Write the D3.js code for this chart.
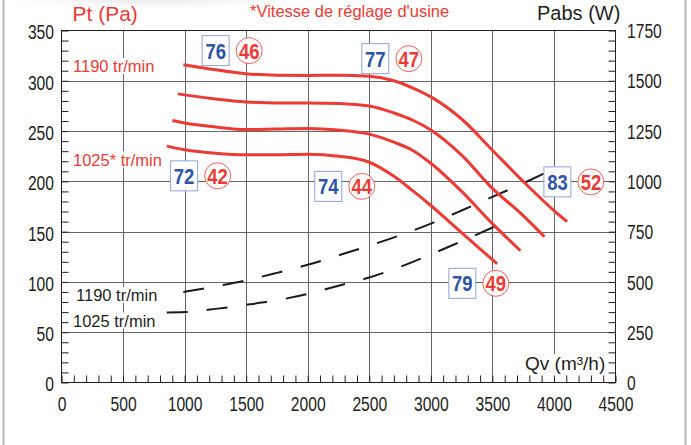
<!DOCTYPE html>
<html>
<head>
<meta charset="utf-8">
<script src="https://cdn.jsdelivr.net/npm/d3@7"></script>
<style>
	body { margin: 0; background: #fff; }
	svg { display: block; }
</style>
</head>
<body>
<div id="chart"></div>
<script>
// pressure curves, [Qv (m3/h), Pt (Pa)]
const pt1190 = [[990,316],[1250,311],[1500,307],[1750,305.5],[2000,305.3],[2250,305.5],[2500,304.5],[2700,300],[2850,293],[3000,284],[3250,262],[3500,231],[3750,200],[4000,171],[4107,160]]
const ptB = [[945,287],[1000,286],[1250,282],[1500,279],[1750,278],[2000,278],[2250,277.5],[2500,275],[2700,268],[2850,261],[3000,251],[3250,226],[3500,193],[3750,166],[3923,145]]
const ptC = [[901,260.5],[1000,258],[1250,254],[1500,251.5],[1750,252],[2000,252.5],[2250,251],[2500,247],[2700,239],[2850,231],[3000,218],[3250,190],[3500,158],[3728,131]]
const pt1025 = [[855,235],[1000,231.5],[1250,228],[1500,226.5],[1750,226.5],[2000,227],[2250,225],[2500,219],[2700,205],[2850,191],[3000,176],[3240,150],[3538,118]]

// absorbed power curves, [Qv (m3/h), Pabs (W)]
const pw1190 = [[990,450],[1250,478],[1500,508],[1750,545],[2000,585],[2250,632],[2500,680],[2750,732],[3000,790],[3250,855],[3500,923],[3750,990],[3917,1038]]
const pw1025 = [[855,348],[1000,350],[1250,366],[1500,386],[1750,409],[2000,440],[2250,481],[2500,522],[2750,575],[3000,637],[3250,702],[3538,781]]

// efficiency / noise markers placed at [Qv, Pt]
const markerBox = ['76', '77', '72', '74', '79', '83']
const markerCircle = ['46', '47', '42', '44', '49', '52']
const markerAt = [[1252,330],[2549,322],[996,205.5],[2167,195],[3256,98.6],[4028,199.5]]

const qTicks = d3.range(0, 4501, 500)
const ptTicks = d3.range(0, 351, 50)

const red = '#ec3b35'
const ink = '#231f20'
const sans = "'Liberation Sans', Arial, sans-serif"

const svg = d3.select('#chart')
	.append('svg')
	.attr('width', 691)
	.attr('height', 445)

const x = d3.scaleLinear().domain([0, 4500]).range([61.5, 615.5])
const y = d3.scaleLinear().domain([0, 350]).range([382.5, 30.5])
const yW = d3.scaleLinear().domain([0, 1750]).range([382.5, 30.5])

// soft shadow at the top of the page
const shade = svg.append('defs').append('radialGradient')
	.attr('id', 'shade')
shade.append('stop').attr('offset', '0%').attr('stop-color', '#d8d8d8')
shade.append('stop').attr('offset', '100%').attr('stop-color', '#fff').attr('stop-opacity', 0)
svg.append('ellipse')
	.attr('cx', 150).attr('cy', -4)
	.attr('rx', 170).attr('ry', 16)
	.attr('fill', 'url(#shade)')

// page frame
svg.append('g')
	.selectAll('line')
	.data([3.5, 685.5])
	.enter()
		.append('line')
			.attr('x1', d => d).attr('x2', d => d)
			.attr('y1', 0).attr('y2', 445)
			.attr('stroke', '#b9b9b9')
			.attr('stroke-width', 2)

// grid
const grid = svg.append('g').attr('stroke', '#666').attr('stroke-width', 1)
grid.selectAll('line.v')
	.data(qTicks.slice(1, -1))
	.enter()
		.append('line')
			.attr('class', 'v')
			.attr('x1', d => Math.round(x(d)) + 0.5).attr('x2', d => Math.round(x(d)) + 0.5)
			.attr('y1', y(0)).attr('y2', y(350))
grid.selectAll('line.h')
	.data(ptTicks.slice(1, -1))
	.enter()
		.append('line')
			.attr('class', 'h')
			.attr('x1', x(0)).attr('x2', x(4500))
			.attr('y1', d => Math.round(y(d)) + 0.5).attr('y2', d => Math.round(y(d)) + 0.5)

svg.append('rect')
	.attr('x', x(0)).attr('y', y(350))
	.attr('width', x(4500) - x(0)).attr('height', y(0) - y(350))
	.attr('fill', 'none')
	.attr('stroke', ink)

// text with a white patch behind it
function label(text, px, py, size, colour) {
	const g = svg.append('g')
	const rect = g.append('rect').attr('fill', '#fff')
	const t = g.append('text')
		.attr('x', px).attr('y', py)
		.attr('font-family', sans)
		.attr('font-size', size)
		.attr('fill', colour)
		.text(text)
	const b = t.node().getBBox()
	rect.attr('x', b.x - 1).attr('y', b.y + 1).attr('width', b.width + 2).attr('height', b.height - 2)
	return rect
}

label('1190 tr/min', 73, 72, 16.5, red)
label('1025* tr/min', 73, 165.5, 16.5, red)
label('1190 tr/min', 76, 301, 16.5, ink)
label('1025 tr/min', 73, 326.5, 16.5, ink)
label('Qv (m³/h)', 525, 370, 19, ink).attr('height', 26).attr('width', 91)

// axes
const leftAxis = d3.axisLeft(y)
	.tickValues(d3.range(0, 351, 10))
	.tickSizeInner(-7).tickSizeOuter(0).tickPadding(7.5)
	.tickFormat(d => d % 50 ? '' : d)
const rightAxis = d3.axisRight(yW)
	.tickValues(d3.range(0, 1751, 50))
	.tickSizeInner(-7).tickSizeOuter(0).tickPadding(11.5)
	.tickFormat(d => d % 250 ? '' : d)
const bottomAxis = d3.axisBottom(x)
	.tickValues(d3.range(0, 4501, 100))
	.tickSizeInner(-7).tickSizeOuter(0).tickPadding(14.5)
	.tickFormat(d => d % 500 ? '' : d)

// condensed digits, squeezed to the width seen on the chart
function styleAxis(g) {
	g.select('.domain').remove()
	g.selectAll('line').attr('stroke', ink)
	g.selectAll('text')
		.attr('fill', ink).attr('font-size', 20).attr('font-family', sans)
		.filter(function() { return this.textContent.length > 0 })
		.attr('textLength', function() { return this.textContent.length * 8.7 })
		.attr('lengthAdjust', 'spacingAndGlyphs')
}

svg.append('g').attr('transform', `translate(${x(0)},0)`).call(leftAxis).call(styleAxis)
	.selectAll('text').attr('dy', '0.42em')
svg.append('g').attr('transform', `translate(${x(4500)},0)`).call(rightAxis).call(styleAxis)
	.selectAll('text').attr('dy', '0.36em')
svg.append('g').attr('transform', `translate(0,${y(0)})`).call(bottomAxis).call(styleAxis)

// titles
svg.append('text').attr('x', 72.5).attr('y', 21)
	.attr('font-family', sans).attr('font-size', 21).attr('fill', red)
	.text('Pt (Pa)')
svg.append('text').attr('x', 250).attr('y', 17)
	.attr('font-family', sans).attr('font-size', 16.5).attr('fill', red)
	.text("*Vitesse de réglage d'usine")
svg.append('text').attr('x', 537).attr('y', 20)
	.attr('font-family', sans).attr('font-size', 20).attr('fill', ink)
	.text('Pabs (W)')

// curves
const ptLine = d3.line().x(d => x(d[0])).y(d => y(d[1])).curve(d3.curveMonotoneX)
const pwLine = d3.line().x(d => x(d[0])).y(d => yW(d[1])).curve(d3.curveMonotoneX)

svg.append('g')
	.selectAll('path')
	.data([pw1190, pw1025])
	.enter()
		.append('path')
			.attr('d', pwLine)
			.attr('fill', 'none')
			.attr('stroke', '#1b1b1b')
			.attr('stroke-width', 2)
			.attr('stroke-dasharray', '21,19')

svg.append('g')
	.selectAll('path')
	.data([pt1190, ptB, ptC, pt1025])
	.enter()
		.append('path')
			.attr('d', ptLine)
			.attr('fill', 'none')
			.attr('stroke', red)
			.attr('stroke-width', 3)

// markers
const markers = svg.append('g')
	.selectAll('g.marker')
	.data(markerAt)
	.enter()
		.append('g')
			.attr('class', 'marker')
			.attr('transform', d => `translate(${x(d[0])},${y(d[1])})`)

markers.append('rect')
	.attr('x', -13.5).attr('y', -15)
	.attr('width', 27).attr('height', 30)
	.attr('fill', '#fff')
	.attr('stroke', '#8ea3d6')
markers.append('text')
	.attr('text-anchor', 'middle')
	.attr('y', 8)
	.attr('font-family', sans).attr('font-weight', 'bold').attr('font-size', 21.5)
	.attr('textLength', 20.5).attr('lengthAdjust', 'spacingAndGlyphs')
	.attr('fill', '#2d54a6')
	.text((d, i) => markerBox[i])
markers.append('circle')
	.attr('cx', 33.5)
	.attr('r', 13)
	.attr('fill', '#fff')
	.attr('stroke', red)
	.attr('stroke-width', 0.8)
markers.append('text')
	.attr('text-anchor', 'middle')
	.attr('x', 33.5).attr('y', 8)
	.attr('font-family', sans).attr('font-weight', 'bold').attr('font-size', 21.5)
	.attr('textLength', 20.5).attr('lengthAdjust', 'spacingAndGlyphs')
	.attr('fill', red)
	.text((d, i) => markerCircle[i])
</script>
</body>
</html>
